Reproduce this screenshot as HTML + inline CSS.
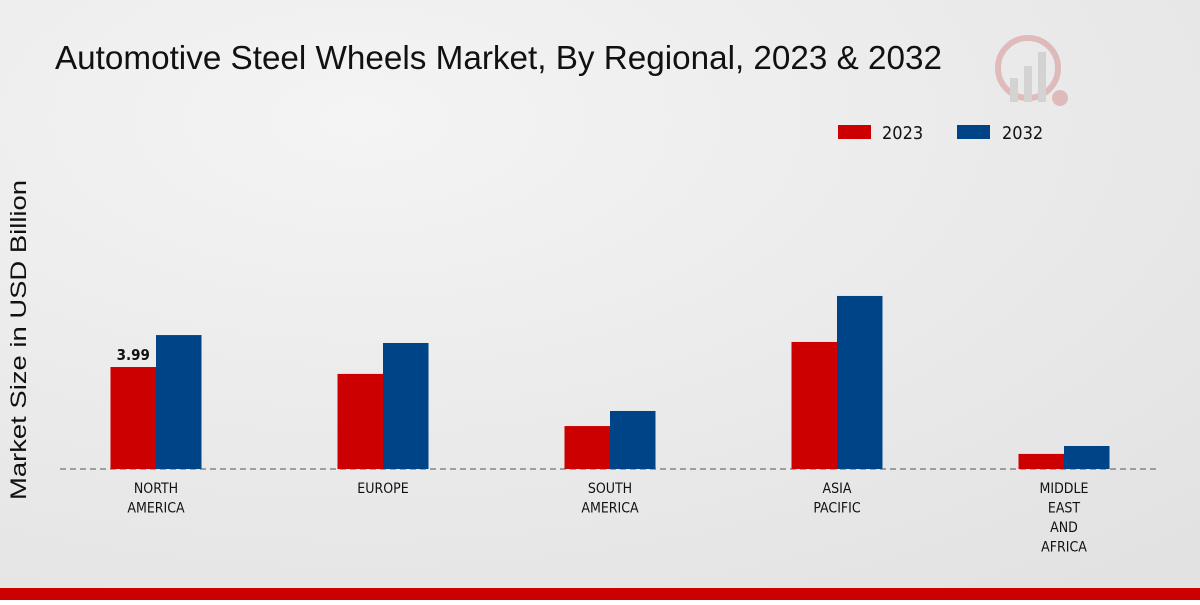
<!DOCTYPE html>
<html><head><meta charset="utf-8"><style>
body{margin:0;width:1200px;height:600px;overflow:hidden;font-family:"Liberation Sans",sans-serif}
.cond{font-family:"DejaVu Sans Condensed","DejaVu Sans","Liberation Sans",sans-serif;font-stretch:condensed}
</style></head><body>
<svg width="1200" height="600">
<defs><radialGradient id="bg" cx="0.3" cy="0.2" r="1"><stop offset="0" stop-color="#f4f4f4"/><stop offset="1" stop-color="#e2e2e2"/></radialGradient></defs>
<rect width="1200" height="600" fill="url(#bg)"/>
<text x="55" y="69" font-size="33" fill="#111" textLength="887" lengthAdjust="spacingAndGlyphs">Automotive Steel Wheels Market, By Regional, 2023 &amp; 2032</text>
<g opacity="0.35">
<circle cx="1028" cy="68" r="30" fill="none" stroke="#c66" stroke-width="6"/>
<rect x="1010" y="78" width="8" height="24" fill="#aaa"/><rect x="1024" y="66" width="8" height="36" fill="#aaa"/><rect x="1038" y="52" width="8" height="50" fill="#aaa"/>
<circle cx="1060" cy="98" r="8" fill="#c66"/></g>
<g>
<rect x="838" y="125" width="33" height="14" fill="#cc0000"/>
<text class="cond" x="882" y="139" font-size="18" fill="#111">2023</text>
<rect x="957" y="125" width="33" height="14" fill="#004488"/>
<text class="cond" x="1002" y="139" font-size="18" fill="#111">2032</text>
</g>
<text transform="translate(26,340) rotate(-90)" text-anchor="middle" font-size="22" fill="#111" textLength="320" lengthAdjust="spacingAndGlyphs">Market Size in USD Billion</text>
<line x1="60" y1="469" x2="1160" y2="469" stroke="#555" stroke-dasharray="6,4"/>
<g id="bars"></g>
<rect x="0" y="588" width="1200" height="12" fill="#cc0000"/>
</svg>
<script>
const categories=[["NORTH","AMERICA"],["EUROPE"],["SOUTH","AMERICA"],["ASIA","PACIFIC"],["MIDDLE","EAST","AND","AFRICA"]];
const values2023=[3.99,3.72,1.68,4.97,0.59];
const values2032=[5.24,4.93,2.27,6.77,0.90];
const labeled2023=["3.99",null,null,null,null];
const NS="http://www.w3.org/2000/svg";
const g=document.getElementById('bars');
const base=469,scale=25.56,x0=156,step=227,bw=45.5;
const y=v=>base-v*scale;
const xc=i=>x0+i*step;
function mk(t,a){const e=document.createElementNS(NS,t);for(const k in a)e.setAttribute(k,a[k]);g.appendChild(e);return e;}
categories.forEach((c,i)=>{
 const r1=mk('rect',{x:xc(i)-bw,y:y(values2023[i]),width:bw,height:values2023[i]*scale,fill:'#cc0000'});
 
 
 const r2=mk('rect',{x:xc(i),y:y(values2032[i]),width:bw,height:values2032[i]*scale,fill:'#004488'});
 
 
 if(labeled2023[i]){const t=mk('text',{x:xc(i)-bw/2,y:y(values2023[i])-7,'text-anchor':'middle','font-size':15,'font-weight':'bold',fill:'#111','class':'cond'});t.textContent=labeled2023[i];
 
 }
 c.forEach((line,j)=>{const t=mk('text',{x:xc(i),y:493+j*19.5,'text-anchor':'middle','font-size':14,fill:'#111','class':'cond'});t.textContent=line;
 
 });
});
</script>
</body></html>
